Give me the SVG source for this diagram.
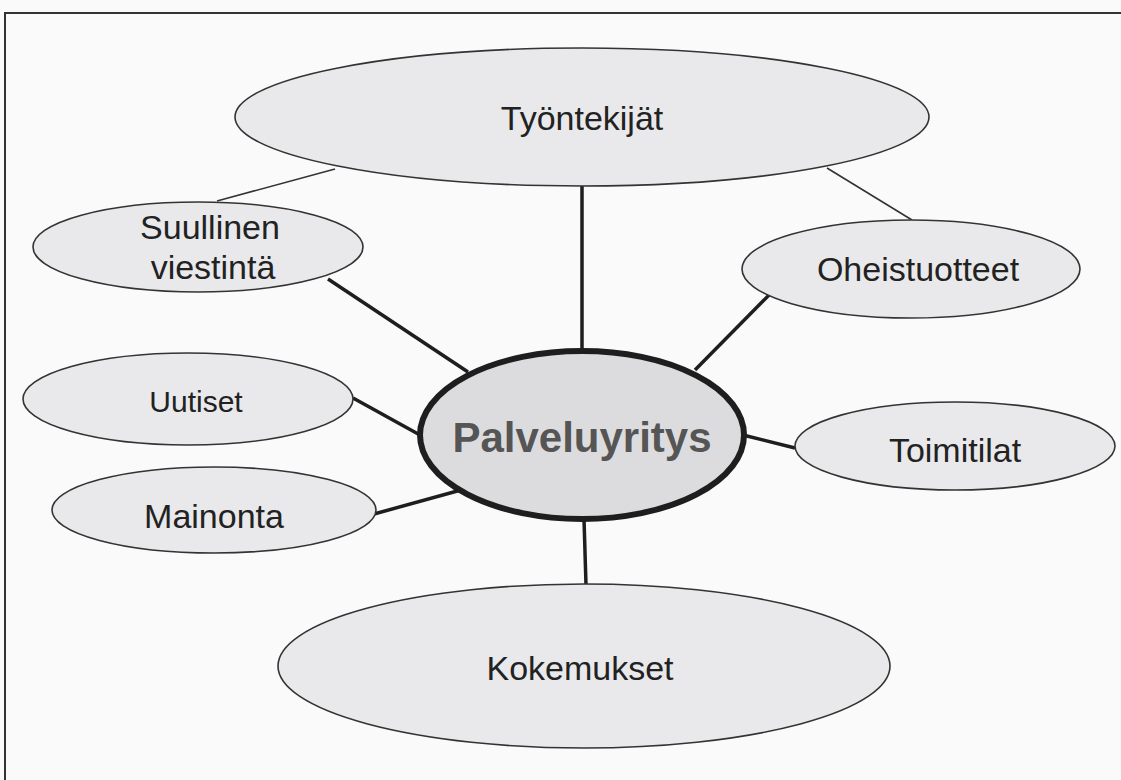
<svg xmlns="http://www.w3.org/2000/svg" width="1121" height="780" viewBox="0 0 1121 780">
<style>
.node{fill:#e9e9eb;stroke:#333;stroke-width:1.6}
.hub{fill:#dcdcde;stroke:#1e1e1e;stroke-width:6}
.lbl{font-family:"Liberation Sans",Arial,sans-serif;font-size:34px;fill:#222;text-anchor:middle}
.hublbl{font-family:"Liberation Sans",Arial,sans-serif;font-size:42px;font-weight:bold;fill:#555;text-anchor:middle}
.thick{stroke:#1e1e1e;stroke-width:3.5;fill:none}
.thin{stroke:#333;stroke-width:1.6;fill:none}
</style>
<rect x="0" y="0" width="1121" height="780" fill="#fafafa"/>
<path d="M5,780 V13 H1121" fill="none" stroke="#333" stroke-width="2"/>
<g id="connectors">
<line class="thin" x1="335" y1="169" x2="217" y2="201"/>
<line class="thin" x1="827" y1="168" x2="912" y2="220"/>
<line class="thick" x1="582" y1="185" x2="582" y2="350"/>
<line class="thick" x1="328" y1="279" x2="468" y2="372"/>
<line class="thick" x1="353" y1="398" x2="420" y2="435"/>
<line class="thick" x1="374" y1="514" x2="461" y2="490"/>
<line class="thick" x1="584" y1="519" x2="586" y2="585"/>
<line class="thick" x1="772" y1="292" x2="695" y2="370"/>
<line class="thick" x1="743" y1="435" x2="795" y2="448"/>
</g>
<g id="tyontekijat">
<ellipse class="node" cx="582" cy="117" rx="347" ry="69"/>
<text class="lbl" x="582" y="130">Työntekijät</text>
</g>
<g id="suullinen">
<ellipse class="node" cx="198" cy="247" rx="165" ry="45"/>
<text class="lbl" x="210" y="239">Suullinen</text>
<text class="lbl" x="213" y="279">viestintä</text>
</g>
<g id="uutiset">
<ellipse class="node" cx="188" cy="399" rx="165" ry="46"/>
<text class="lbl" x="196" y="412" style="font-size:30px">Uutiset</text>
</g>
<g id="mainonta">
<ellipse class="node" cx="214" cy="510" rx="162" ry="43"/>
<text class="lbl" x="214" y="528">Mainonta</text>
</g>
<g id="kokemukset">
<ellipse class="node" cx="584" cy="666" rx="306" ry="82"/>
<text class="lbl" x="580" y="680">Kokemukset</text>
</g>
<g id="oheistuotteet">
<ellipse class="node" cx="911" cy="269" rx="169" ry="49"/>
<text class="lbl" x="918" y="281">Oheistuotteet</text>
</g>
<g id="toimitilat">
<ellipse class="node" cx="955" cy="446" rx="160" ry="44"/>
<text class="lbl" x="955" y="462">Toimitilat</text>
</g>
<g id="palveluyritys">
<ellipse class="hub" cx="582" cy="435" rx="162" ry="84"/>
<text class="hublbl" x="582" y="452">Palveluyritys</text>
</g>
</svg>
